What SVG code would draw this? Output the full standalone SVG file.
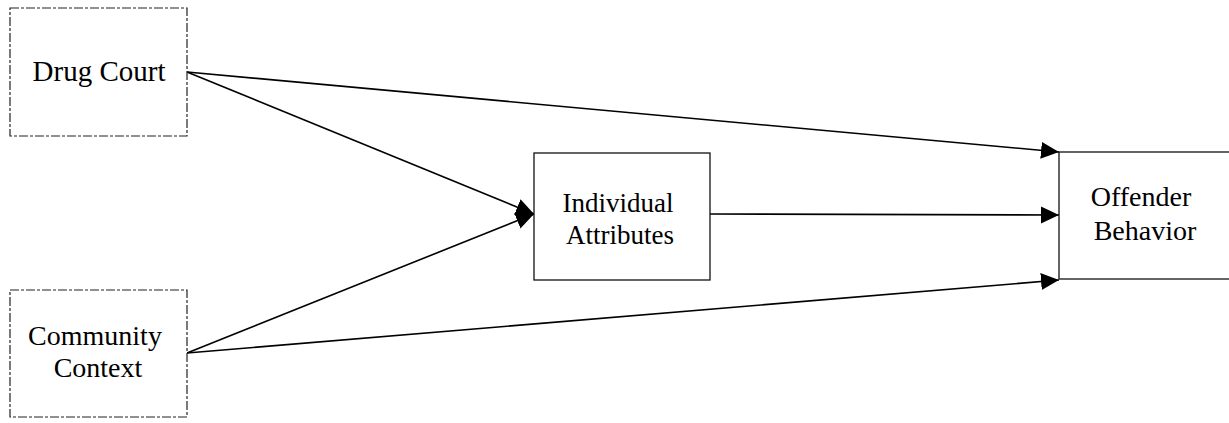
<svg xmlns="http://www.w3.org/2000/svg" width="1229" height="423" viewBox="0 0 1229 423">
<style>
.box{fill:#fff;stroke:#111;stroke-width:1.3}
.dbox{fill:#fff;stroke:#222;stroke-width:1.2;stroke-dasharray:9 2 3 2}
.lbl{font-family:"Liberation Serif","Times New Roman",serif;font-size:28px;fill:#000;text-anchor:middle}
.sm{font-size:27px}
.edge{stroke:#000;stroke-width:1.6;fill:none;marker-end:url(#ah)}
</style>
<defs>
<marker id="ah" markerUnits="userSpaceOnUse" markerWidth="20" markerHeight="18" refX="18" refY="8.5" orient="auto">
<path d="M0,0 L18,8.5 L0,17 Z" fill="#000"/>
</marker>
</defs>
<rect width="1229" height="423" fill="#fff"/>
<g id="connectors">
<line class="edge" x1="187" y1="72" x2="1059" y2="152"/>
<line class="edge" x1="187" y1="72" x2="534" y2="214"/>
<line class="edge" x1="187" y1="353" x2="534" y2="214"/>
<line class="edge" x1="187" y1="353" x2="1059" y2="280"/>
<line class="edge" x1="710" y1="214" x2="1059" y2="215"/>
</g>
<g id="drug-court">
<rect class="dbox" x="10" y="8" width="177" height="128"/>
<text class="lbl" x="99" y="81" style="font-size:29px">Drug Court</text>
</g>
<g id="community-context">
<rect class="dbox" x="10" y="290" width="177" height="127"/>
<text class="lbl" x="95" y="345">Community</text>
<text class="lbl" x="98" y="377">Context</text>
</g>
<g id="individual-attributes">
<rect class="box" x="534" y="153" width="176" height="127"/>
<text class="lbl sm" x="618" y="212">Individual</text>
<text class="lbl sm" x="620" y="244">Attributes</text>
</g>
<g id="offender-behavior">
<rect class="box" x="1059" y="152" width="200" height="127"/>
<text class="lbl" x="1141" y="206">Offender</text>
<text class="lbl" x="1145" y="240">Behavior</text>
</g>
</svg>
